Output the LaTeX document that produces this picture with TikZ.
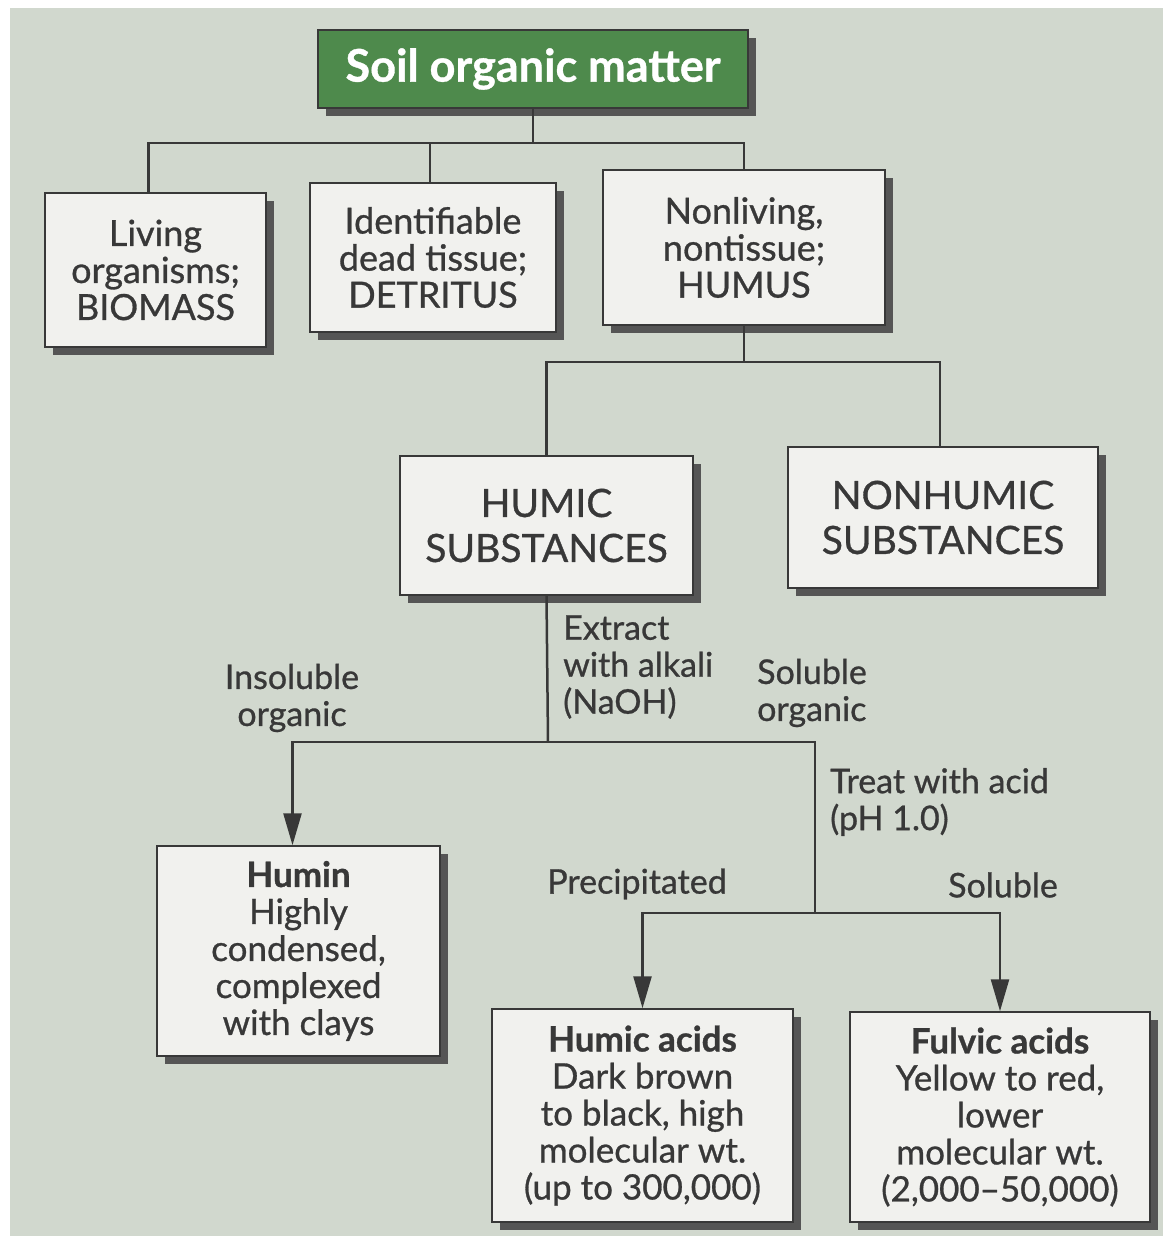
\documentclass[tikz,border=0pt]{standalone}
\usepackage{fontspec}
\setmainfont{Lato}[FakeBold=0.8]
\usetikzlibrary{arrows.meta,shadows}
\definecolor{bg}{HTML}{D1D8CE}
\definecolor{ink}{HTML}{383838}
\definecolor{boxfill}{HTML}{F1F1EE}
\definecolor{somgreen}{HTML}{4E8A4C}
\definecolor{shade}{HTML}{555555}
\tikzset{
  box/.style={draw=ink, line width=1.5pt, fill=boxfill, text=ink, align=center,
    inner sep=4pt, font=\fontsize{36}{37}\selectfont,
    drop shadow={shadow xshift=8pt, shadow yshift=-8pt, fill=shade, opacity=1}},
  lowbox/.style={box, font=\fontsize{35}{37}\selectfont},
  bigbox/.style={box, font=\fontsize{39}{45}\selectfont},
  lbl/.style={text=ink, font=\fontsize{34}{37}\selectfont, inner sep=0pt},
  conn/.style={draw=ink, line width=2.5pt},
  arr/.style={conn, -{Triangle[length=32pt,width=18pt]}},
}
\begin{document}
\begin{tikzpicture}[x=1pt,y=-1pt]
\useasboundingbox (0,0) rectangle (1163,1236);
\fill[white] (0,0) rectangle (1163,1236);
\fill[bg] (10,8) rectangle (1163,1236);

% boxes
\node[box, fill=somgreen, text=white, minimum width=430pt, minimum height=78pt,
  font=\fontsize{45}{48}\selectfont\bfseries] (som) at (533,69) {Soil organic matter};
\node[box, minimum width=221pt, minimum height=154pt] (liv) at (155.5,270)
  {Living\\organisms;\\BIOMASS};
\node[box, minimum width=246pt, minimum height=149pt] (ide) at (433,257.5)
  {Identifiable\\dead tissue;\\DETRITUS};
\node[box, minimum width=282pt, minimum height=155pt] (non) at (744,247.5)
  {Nonliving,\\nontissue;\\HUMUS};
\node[bigbox, minimum width=293pt, minimum height=139pt] (hs) at (546.5,525.5)
  {HUMIC\\SUBSTANCES};
\node[bigbox, minimum width=310pt, minimum height=141pt] (nhs) at (943,517.5)
  {NONHUMIC\\SUBSTANCES};
\node[lowbox, minimum width=283pt, minimum height=210pt] (humin) at (298.5,951)
  {\textbf{Humin}\\Highly\\condensed,\\complexed\\with clays};
\node[lowbox, minimum width=301pt, minimum height=213pt] (ha) at (642.5,1115.5)
  {\textbf{Humic acids}\\Dark brown\\to black, high\\molecular wt.\\(up to 300,000)};
\node[lowbox, minimum width=300pt, minimum height=210pt] (fa) at (1000,1117)
  {\textbf{Fulvic acids}\\Yellow to red,\\lower\\molecular wt.\\(2,000--50,000)};

% junction points
\coordinate (j1) at (533,143);
\coordinate (j2) at (744,362);
\coordinate (j3) at (548,742);
\coordinate (j4) at (815,742);
\coordinate (j5) at (815,913);

% connectors
\draw[conn] (som.south) -- (j1);
\draw[conn] ([xshift=-7pt]liv.north) |- (j1) -| ([xshift=-3pt]ide.north);
\draw[conn] (j1) -| (non.north);
\draw[conn] (non.south) -- (j2);
\draw[conn] (hs.north) |- (j2) -| ([xshift=-3pt]nhs.north);
\draw[conn] (hs.south) -- (j3);
\draw[arr] (j3) -| ([xshift=-6pt]humin.north);
\draw[conn] (j3) -- (j4) -- (j5);
\draw[arr] (j5) -| (ha.north);
\draw[arr] (j5) -| (fa.north);

% labels
\node[lbl, anchor=west, align=left] (ext) at (563,667) {Extract\\with alkali\\(NaOH)};
\node[lbl, align=center] (ins) at (292,698) {Insoluble\\organic};
\node[lbl, anchor=west, align=left] (sol1) at (757,693) {Soluble\\organic};
\node[lbl, anchor=west, align=left] (trt) at (830,802) {Treat with acid\\(pH 1.0)};
\node[lbl] (pre) at (637,884) {Precipitated};
\node[lbl] (sol2) at (1003,885) {Soluble};
\end{tikzpicture}
\end{document}
